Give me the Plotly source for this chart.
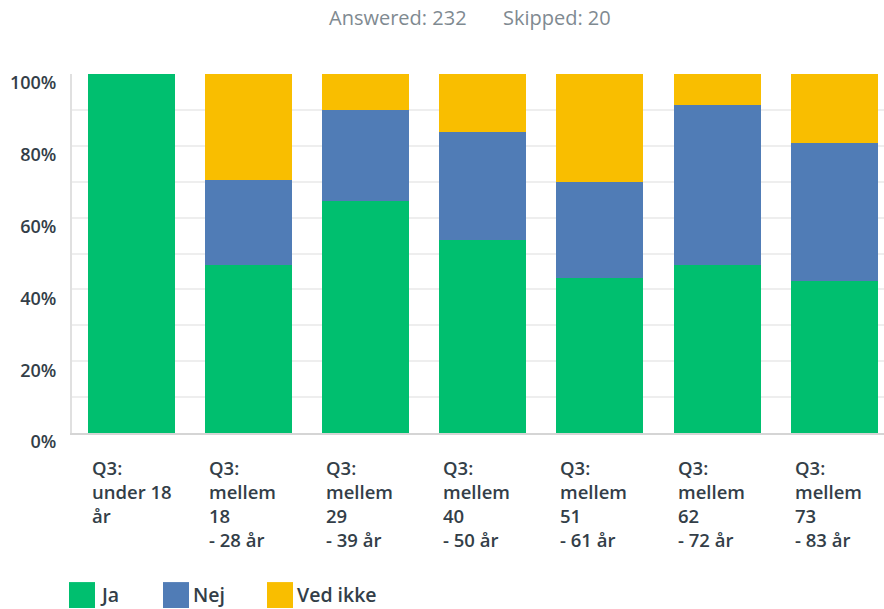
import plotly.graph_objects as go

# Age groups (x-axis labels, wrapped the way they are shown under each column)
categories = [
    "Q3:<br>under 18<br>år",
    "Q3:<br>mellem<br>18<br>- 28 år",
    "Q3:<br>mellem<br>29<br>- 39 år",
    "Q3:<br>mellem<br>40<br>- 50 år",
    "Q3:<br>mellem<br>51<br>- 61 år",
    "Q3:<br>mellem<br>62<br>- 72 år",
    "Q3:<br>mellem<br>73<br>- 83 år",
]

# Share of answers (%) per age group
ja = [100.0, 46.7, 64.7, 53.9, 43.2, 46.8, 42.3]
nej = [0.0, 23.7, 25.4, 29.9, 26.8, 44.6, 38.4]
ved_ikke = [0.0, 29.6, 9.9, 16.2, 30.0, 8.6, 19.3]

series_names = ["Ja", "Nej", "Ved ikke"]
series_colors = ["#00bf6f", "#507cb6", "#f9be00"]

answered = 232
skipped = 20

W, H = 884, 609
ML, MR, MT, MB = 72, 0, 73.5, 175.5
plot_w = W - ML - MR
plot_h = H - MT - MB

TEXT = "#333e48"
FONT = "Open Sans"

fig = go.Figure()
for name, vals, col in zip(series_names, [ja, nej, ved_ikke], series_colors):
    fig.add_trace(go.Bar(
        x=list(range(len(categories))), y=vals, name=name,
        marker=dict(color=col, line=dict(width=0)),
        showlegend=False, hoverinfo="y+name",
    ))

bar_frac = 0.743

# Left-aligned category labels under each column
annotations = []
for i, lab in enumerate(categories):
    annotations.append(dict(
        x=i - bar_frac / 2, y=0, xref="x", yref="y",
        text=lab, showarrow=False, xanchor="left", yanchor="top",
        align="left", yshift=-20, xshift=2,
        font=dict(family=FONT, size=18.5, color=TEXT, weight=600),
    ))

# Header line
annotations.append(dict(
    x=(470 - ML) / plot_w, y=(H - MB - 17) / plot_h, xref="paper", yref="paper",
    text=f"Answered: {answered}&nbsp;&nbsp;&nbsp;&nbsp;&nbsp;&nbsp;&nbsp;Skipped: {skipped}",
    showarrow=False, xanchor="center", yanchor="middle",
    font=dict(family=FONT, size=20, color="#7f8a91"),
))

# Legend drawn as colored squares with labels beneath the chart
shapes = []
legend_sq_x = [69, 163, 267]
legend_txt_x = [98, 191, 295]
sq = 26
sq_top = 583
for name, col, sx, tx in zip(series_names, series_colors, legend_sq_x, legend_txt_x):
    x0 = (sx - ML) / plot_w
    x1 = (sx + sq - ML) / plot_w
    y1 = (H - MB - sq_top) / plot_h
    y0 = (H - MB - (sq_top + sq)) / plot_h
    shapes.append(dict(type="rect", xref="paper", yref="paper",
                       x0=x0, x1=x1, y0=y0, y1=y1,
                       fillcolor=col, line=dict(width=0), layer="above"))
    annotations.append(dict(
        x=(tx - ML) / plot_w, y=(H - MB - 595) / plot_h, xref="paper", yref="paper",
        text=name, showarrow=False, xanchor="left", yanchor="middle",
        font=dict(family=FONT, size=19.5, color=TEXT, weight=600),
    ))

fig.update_layout(
    width=W, height=H,
    margin=dict(l=ML, r=MR, t=MT, b=MB, pad=0),
    barmode="stack", bargap=1 - bar_frac,
    plot_bgcolor="white", paper_bgcolor="white",
    showlegend=False,
    annotations=annotations, shapes=shapes,
    xaxis=dict(
        range=[-0.509, 6.426], showticklabels=False, showgrid=False,
        zeroline=False, showline=True, linecolor="#d5d5d5", linewidth=2,
        ticks="", fixedrange=True,
    ),
    yaxis=dict(
        range=[0, 100], tickvals=[0, 20, 40, 60, 80, 100],
        ticktext=["0%", "20%", "40%", "60%", "80%", "100%"],
        showgrid=False, zeroline=False,
        showline=True, linecolor="#e0e0e0", linewidth=2,
        ticks="", ticklabelstandoff=10, ticklabelshift=9,
        tickfont=dict(family=FONT, size=18, color=TEXT, weight=600),
        minor=dict(tickvals=[10, 20, 30, 40, 50, 60, 70, 80, 90],
                   showgrid=True, gridcolor="#eeeeee", gridwidth=2, ticks=""),
        fixedrange=True,
    ),
)

fig.write_html("out.html")
